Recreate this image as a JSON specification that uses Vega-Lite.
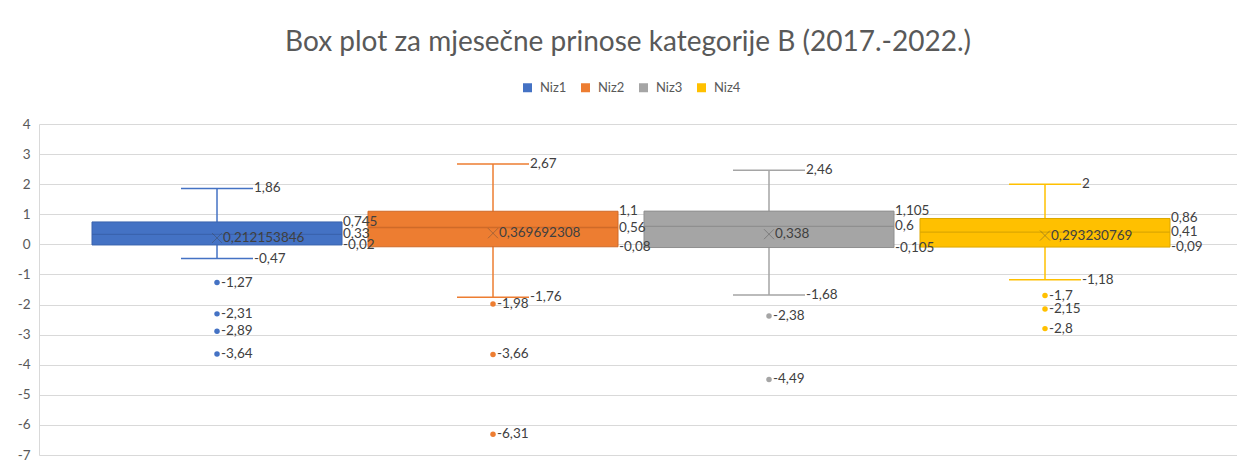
{
  "$schema": "https://vega.github.io/schema/vega-lite/v6.json",
  "autosize": "none",
  "width": 1198,
  "height": 331,
  "padding": {"left": 39, "top": 124, "right": 0, "bottom": 10},
  "background": "white",
  "title": {
    "text": "Box plot za mjesečne prinose kategorije B (2017.-2022.)",
    "font": "Lato",
    "fontSize": 28,
    "fontWeight": "normal",
    "color": "#595959",
    "anchor": "middle",
    "frame": "group",
    "offset": 24,
    "dx": -10
  },
  "config": {
    "view": {"stroke": null},
    "locale": {
      "number": {"decimal": ",", "thousands": ".", "grouping": [3], "currency": ["", ""], "minus": "-"}
    },
    "axisY": {"labelOverlap": false, "labelFlush": false, "grid": true, "gridColor": "#D9D9D9", "gridWidth": 1,
              "domain": true, "domainColor": "#D9D9D9", "domainWidth": 1, "ticks": false, "labelPadding": 9,
              "labelFont": "Lato", "labelFontSize": 13.5, "labelColor": "#595959", "title": null},
    "text": {"font": "Lato", "fontSize": 13.5, "color": "#404040", "baseline": "middle", "align": "left"}
  },
  "datasets": {
    "summary": [
      {"series": "Niz1", "min": -0.47, "q1": -0.02, "median": 0.33, "q3": 0.745, "max": 1.86, "mean": 0.212153846},
      {"series": "Niz2", "min": -1.76, "q1": -0.08, "median": 0.56, "q3": 1.1, "max": 2.67, "mean": 0.369692308},
      {"series": "Niz3", "min": -1.68, "q1": -0.105, "median": 0.6, "q3": 1.105, "max": 2.46, "mean": 0.338},
      {"series": "Niz4", "min": -1.18, "q1": -0.09, "median": 0.41, "q3": 0.86, "max": 2, "mean": 0.293230769}
    ],
    "outliers": [
      {"series": "Niz1", "value": -1.27},
      {"series": "Niz1", "value": -2.31},
      {"series": "Niz1", "value": -2.89},
      {"series": "Niz1", "value": -3.64},
      {"series": "Niz2", "value": -1.98},
      {"series": "Niz2", "value": -3.66},
      {"series": "Niz2", "value": -6.31},
      {"series": "Niz3", "value": -2.38},
      {"series": "Niz3", "value": -4.49},
      {"series": "Niz4", "value": -1.7},
      {"series": "Niz4", "value": -2.15},
      {"series": "Niz4", "value": -2.8}
    ]
  },
  "layer": [
    {
      "data": {"name": "summary"},
      "mark": {"type": "rule", "strokeWidth": 1.5, "opacity": 1},
      "encoding": {
        "x": {"field": "series", "type": "nominal", "axis": null,
              "scale": {"domain": ["Niz1", "Niz2", "Niz3", "Niz4"], "paddingInner": 0.0942, "paddingOuter": 0.2174, "align": 0.4417}},
        "y": {"field": "min", "type": "quantitative", "title": null,
              "scale": {"domain": [-7, 4], "nice": false, "zero": false},
              "axis": {"values": [-7, -6, -5, -4, -3, -2, -1, 0, 1, 2, 3, 4], "tickCount": 30, "labelOverlap": false, "format": "d"}},
        "y2": {"field": "max"},
        "color": {"field": "series", "type": "nominal",
                  "scale": {"domain": ["Niz1", "Niz2", "Niz3", "Niz4"], "range": ["#4472C4", "#ED7D31", "#A5A5A5", "#FFC000"]},
                  "legend": {"orient": "none", "legendX": 482, "legendY": -43, "direction": "horizontal", "title": null,
                             "symbolType": "square", "symbolSize": 81, "symbolStrokeWidth": 0, "symbolOpacity": 1, "labelFont": "Lato",
                             "labelFontSize": 13, "labelColor": "#595959", "columnPadding": 12, "labelOffset": 6, "padding": 0}}
      }
    },
    {
      "data": {"name": "summary"},
      "mark": {"type": "tick", "size": 72, "thickness": 1.5, "opacity": 1},
      "encoding": {
        "x": {"field": "series", "type": "nominal"},
        "y": {"field": "max", "type": "quantitative", "title": null},
        "color": {"field": "series", "type": "nominal"}
      }
    },
    {
      "data": {"name": "summary"},
      "mark": {"type": "tick", "size": 72, "thickness": 1.5, "opacity": 1},
      "encoding": {
        "x": {"field": "series", "type": "nominal"},
        "y": {"field": "min", "type": "quantitative", "title": null},
        "color": {"field": "series", "type": "nominal"}
      }
    },
    {
      "data": {"name": "summary"},
      "mark": {"type": "bar", "strokeWidth": 1, "opacity": 1},
      "encoding": {
        "x": {"field": "series", "type": "nominal"},
        "y": {"field": "q1", "type": "quantitative", "title": null},
        "y2": {"field": "q3"},
        "color": {"field": "series", "type": "nominal"},
        "stroke": {"field": "series", "type": "nominal", "legend": null,
                   "scale": {"domain": ["Niz1", "Niz2", "Niz3", "Niz4"], "range": ["#3A63AE", "#CF6A28", "#8F8F8F", "#DCA700"]}}
      }
    },
    {
      "data": {"name": "summary"},
      "mark": {"type": "tick", "size": 250, "thickness": 1.3, "opacity": 1},
      "encoding": {
        "x": {"field": "series", "type": "nominal"},
        "y": {"field": "median", "type": "quantitative", "title": null},
        "fill": {"field": "series", "type": "nominal", "legend": null,
                 "scale": {"domain": ["Niz1", "Niz2", "Niz3", "Niz4"], "range": ["#3A63AE", "#CF6A28", "#8F8F8F", "#DCA700"]}}
      }
    },
    {
      "data": {"name": "summary"},
      "mark": {"type": "point", "shape": "M-1,-1L1,1M1,-1L-1,1", "filled": false, "size": 100, "stroke": "#404040", "strokeOpacity": 0.55, "strokeWidth": 1},
      "encoding": {
        "x": {"field": "series", "type": "nominal"},
        "y": {"field": "mean", "type": "quantitative", "title": null}
      }
    },
    {
      "data": {"name": "outliers"},
      "mark": {"type": "circle", "size": 30, "opacity": 1},
      "encoding": {
        "x": {"field": "series", "type": "nominal"},
        "y": {"field": "value", "type": "quantitative", "title": null},
        "color": {"field": "series", "type": "nominal"}
      }
    },
    {
      "data": {"name": "summary"},
      "transform": [{"fold": ["max", "min"], "as": ["stat", "v"]}],
      "mark": {"type": "text", "dx": 37},
      "encoding": {
        "x": {"field": "series", "type": "nominal"},
        "y": {"field": "v", "type": "quantitative", "title": null},
        "text": {"field": "v", "type": "quantitative", "format": ".10~g"}
      }
    },
    {
      "data": {"name": "summary"},
      "transform": [{"fold": ["q3", "median", "q1"], "as": ["stat", "v"]}],
      "mark": {"type": "text", "dx": 126},
      "encoding": {
        "x": {"field": "series", "type": "nominal"},
        "y": {"field": "v", "type": "quantitative", "title": null},
        "text": {"field": "v", "type": "quantitative", "format": ".10~g"}
      }
    },
    {
      "data": {"name": "summary"},
      "mark": {"type": "text", "dx": 6},
      "encoding": {
        "x": {"field": "series", "type": "nominal"},
        "y": {"field": "mean", "type": "quantitative", "title": null},
        "text": {"field": "mean", "type": "quantitative", "format": ".10~g"}
      }
    },
    {
      "data": {"name": "outliers"},
      "mark": {"type": "text", "dx": 4},
      "encoding": {
        "x": {"field": "series", "type": "nominal"},
        "y": {"field": "value", "type": "quantitative", "title": null},
        "text": {"field": "value", "type": "quantitative", "format": ".10~g"}
      }
    }
  ]
}
